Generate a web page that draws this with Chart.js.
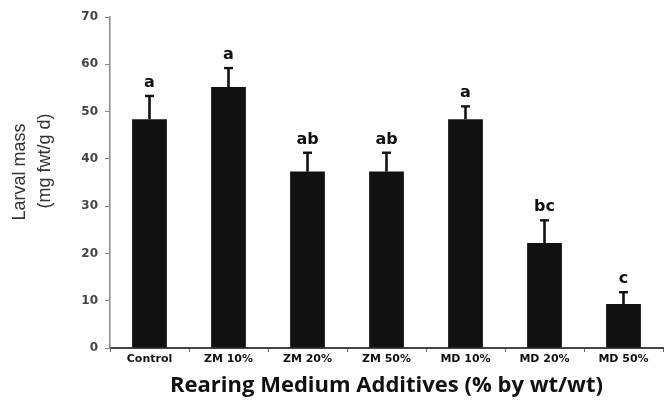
<!DOCTYPE html>
<html><head><meta charset="utf-8">
<script src="https://cdn.jsdelivr.net/npm/chart.js@4/dist/chart.umd.min.js"></script>
<style>html,body{margin:0;padding:0;background:#fff;}canvas{display:block;}</style>
</head><body>
<canvas id="c" width="669" height="406"></canvas>
<script>
const categories = ['Control','ZM 10%','ZM 20%','ZM 50%','MD 10%','MD 20%','MD 50%'];
const means = [48.4, 55.2, 37.3, 37.3, 48.4, 22.2, 9.3];
const errUpper = [53.3, 59.2, 41.3, 41.3, 51.1, 27.0, 11.8];
const letters = ['a','a','ab','ab','a','bc','c'];
const yTicks = [0,10,20,30,40,50,60,70];
const yTitleLines = ['Larval mass','(mg fwt/g d)'];

const errPlugin = {
  id:'err',
  afterDatasetsDraw(chart){
    const ctx = chart.ctx, y = chart.scales.y, meta = chart.getDatasetMeta(0);
    ctx.save();
    meta.data.forEach((bar,i)=>{
      const x = bar.x, yt = y.getPixelForValue(errUpper[i]), yb = y.getPixelForValue(means[i]);
      ctx.strokeStyle = '#111'; ctx.lineWidth = 2.6;
      ctx.beginPath(); ctx.moveTo(x,yb); ctx.lineTo(x,yt); ctx.stroke();
      ctx.lineWidth = 2.4;
      ctx.beginPath(); ctx.moveTo(x-4.5,yt); ctx.lineTo(x+4.5,yt); ctx.stroke();
      ctx.fillStyle = '#111';
      ctx.font = 'bold 16px "DejaVu Sans", sans-serif';
      ctx.textAlign = 'center'; ctx.textBaseline = 'alphabetic';
      ctx.fillText(letters[i], x, yt - 9);
    });
    ctx.restore();
  }
};

const yTitlePlugin = {
  id:'ytitle',
  afterDraw(chart){
    const ctx = chart.ctx;
    ctx.save();
    ctx.fillStyle = '#333';
    ctx.font = '18px "Liberation Sans", Arial, sans-serif';
    ctx.textAlign = 'center'; ctx.textBaseline = 'middle';
    const pos = [[20,172],[45,161]];
    yTitleLines.forEach((t,i)=>{
      ctx.save();
      ctx.translate(pos[i][0], pos[i][1]);
      ctx.rotate(-Math.PI/2);
      ctx.fillText(t,0,0);
      ctx.restore();
    });
    ctx.restore();
  }
};

new Chart(document.getElementById('c'), {
  type:'bar',
  data:{labels:categories, datasets:[{data:means, backgroundColor:'#111', borderWidth:0, barPercentage:0.88, categoryPercentage:0.5}]},
  plugins:[errPlugin, yTitlePlugin],
  options:{
    responsive:false, animation:false,
    layout:{padding:{top:17,right:6,left:0,bottom:0}},
    plugins:{legend:{display:false}, tooltip:{enabled:false}},
    scales:{
      x:{
        grid:{display:true, drawOnChartArea:false, offset:true, tickLength:4, color:'#666'},
        border:{display:true, color:'#444', width:2},
        ticks:{color:'#111', font:{family:'"DejaVu Sans", sans-serif', size:11, weight:'bold'}, padding:1, maxRotation:0},
        title:{display:true, text:'Rearing Medium Additives (% by wt/wt)', color:'#111', font:{family:'"Open Sans", sans-serif', size:22, weight:'bold'}, padding:{top:0,bottom:7}},
        afterFit(s){ s.height = 58; }
      },
      y:{
        min:0, max:70,
        afterBuildTicks(s){ s.ticks = yTicks.map(v=>({value:v})); },
        grid:{display:true, drawOnChartArea:false, tickLength:5, color:'#888'},
        border:{display:true, color:'#888', width:1.5},
        ticks:{color:'#444', font:{family:'"DejaVu Sans", sans-serif', size:12, weight:'bold'}, padding:7},
        afterFit(s){ s.width = 110; }
      }
    }
  }
});
</script>
</body></html>
